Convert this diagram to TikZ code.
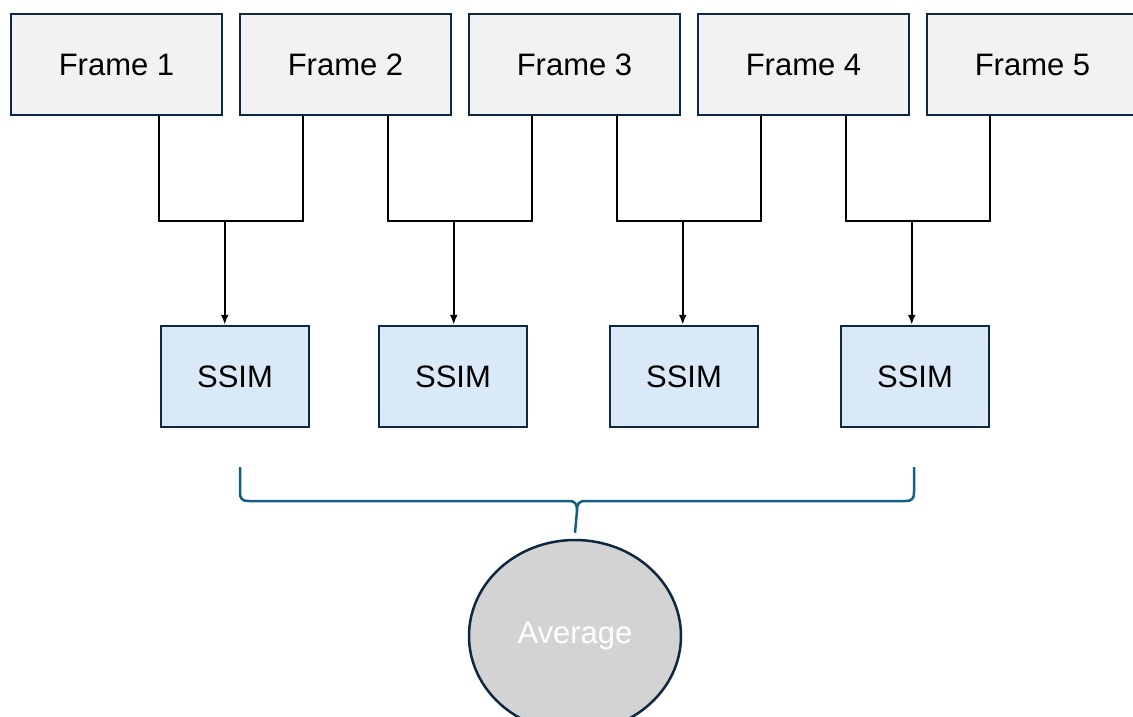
\documentclass[tikz,border=0pt]{standalone}
\usepackage{fontspec}
\setmainfont{Liberation Sans}
\usepackage{tikz}
\usetikzlibrary{arrows.meta,calc,shapes.geometric}
\definecolor{framegray}{HTML}{F2F2F2}
\definecolor{framenavy}{HTML}{0E2841}
\definecolor{ssimblue}{HTML}{DAE9F8}
\definecolor{braceblue}{HTML}{156082}
\definecolor{avggray}{HTML}{D3D3D3}

\begin{document}
\begin{tikzpicture}[x=1pt,y=-1pt,>={Latex[length=10pt,width=8pt]},
  every node/.style={font=\fontsize{31}{37}\selectfont},
  framebox/.style={draw=framenavy,line width=2.5pt,fill=framegray,minimum width=211pt,minimum height=101pt,inner sep=0pt},
  ssimbox/.style={draw=framenavy,line width=2.5pt,fill=ssimblue,minimum width=148pt,minimum height=101pt,inner sep=0pt}]
  \useasboundingbox (0,0) rectangle (1133,717);
  \foreach \i/\x in {1/116.5,2/345.5,3/574.5,4/803.5,5/1032.5}{\node[framebox] (f\i) at (\x,64.5) {Frame \i};}
  \foreach \i/\x in {1/235,2/453,3/684,4/915}{\node[ssimbox] (s\i) at (\x,376.5) {SSIM};}
  \foreach \i/\j in {1/2,2/3,3/4,4/5}{
    \draw[line width=2pt] ([xshift=42pt]f\i.south) -- ++(0,105) -| coordinate[pos=0.23] (m\i) ([xshift=-43pt]f\j.south);
    \draw[->,line width=2pt] (m\i) -- (m\i |- s\i.north);
  }
  \node[ellipse,draw=framenavy,line width=2.5pt,fill=avggray,text=white,minimum width=212pt,minimum height=192pt,inner sep=0pt] (avg) at (575,636) {Average};
  \draw[braceblue,line width=2.5pt] (240,467) -- (240,492) .. controls (240,499) and (242,501) .. (249,501) -- (568,501) .. controls (575,501) and (577,503) .. (577,511) -- ([yshift=6pt]avg.north);
  \draw[braceblue,line width=2.5pt] (577,511) .. controls (577,503) and (579,501) .. (586,501) -- (905,501) .. controls (912,501) and (914,499) .. (914,492) -- (914,467);
\end{tikzpicture}
\end{document}
